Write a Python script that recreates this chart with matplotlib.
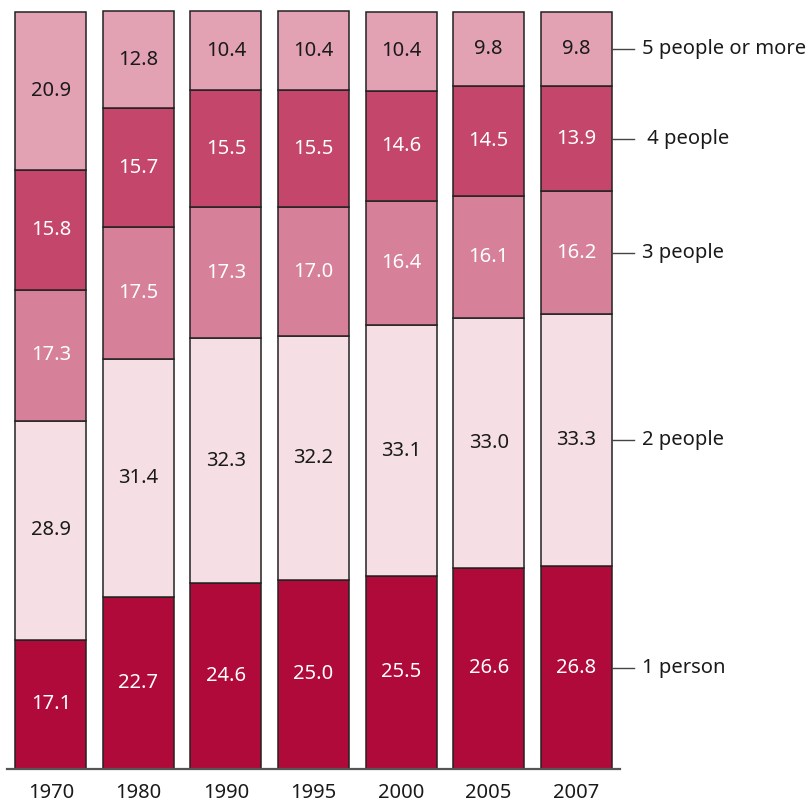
import numpy as np
import matplotlib
matplotlib.use("Agg")
import matplotlib.pyplot as plt

plt.rcParams['font.family'] = ['Noto Sans', 'DejaVu Sans']

years = ['1970', '1980', '1990', '1995', '2000', '2005', '2007']
groups = ['1 person', '2 people', '3 people', ' 4 people', '5 people or more']
one_person = [17.1, 22.7, 24.6, 25.0, 25.5, 26.6, 26.8]
two_people = [28.9, 31.4, 32.3, 32.2, 33.1, 33.0, 33.3]
three_people = [17.3, 17.5, 17.3, 17.0, 16.4, 16.1, 16.2]
four_people = [15.8, 15.7, 15.5, 15.5, 14.6, 14.5, 13.9]
five_more = [20.9, 12.8, 10.4, 10.4, 10.4, 9.8, 9.8]

series = [one_person, two_people, three_people, four_people, five_more]
colors = ['#b00a3a', '#f5dfe4', '#d6809a', '#c4466a', '#e3a2b4']
txtcol = ['white', '#1a1a1a', 'white', 'white', '#1a1a1a']

W, H = 810, 806
fig = plt.figure(figsize=(W/100, H/100), dpi=100)
ax = fig.add_axes([7/W, (H-769)/H, (620-7)/W, 757/H])

x = np.arange(len(years))
w = 0.81
bottom = np.zeros(len(years))
for vals, c, tc in zip(series, colors, txtcol):
    vals = np.array(vals)
    ax.bar(x, vals, w, bottom=bottom, color=c, edgecolor='#222222', linewidth=1.1,
           zorder=2, clip_on=False)
    for xi, b, v in zip(x, bottom, vals):
        ax.text(xi, b + v/2, f'{v:.1f}', ha='center', va='center', color=tc, fontsize=14.5)
    bottom += vals

# labels on the right, next to the last bar
bottom = 0
for vals, name in zip(series, groups):
    mid = bottom + vals[-1]/2
    xr = x[-1] + w/2
    ax.plot([xr, xr + 0.25], [mid, mid], color='#444444', linewidth=1, clip_on=False)
    ax.text(xr + 0.35, mid, name, ha='left', va='center', color='#1a1a1a', fontsize=14.5)
    bottom += vals[-1]

ax.set_xlim(-0.5, 6.5)
ax.set_ylim(0, 100)
for s in ['top', 'right', 'left']:
    ax.spines[s].set_visible(False)
ax.spines['bottom'].set_color('#555555')
ax.spines['bottom'].set_linewidth(1.6)
ax.spines['bottom'].set_zorder(3)
ax.set_yticks([])
ax.set_xticks(x)
ax.set_xticklabels(years, fontsize=14.5, color='#1a1a1a')
ax.tick_params(axis='x', length=0, pad=10)

fig.savefig('out.png', dpi=100)
